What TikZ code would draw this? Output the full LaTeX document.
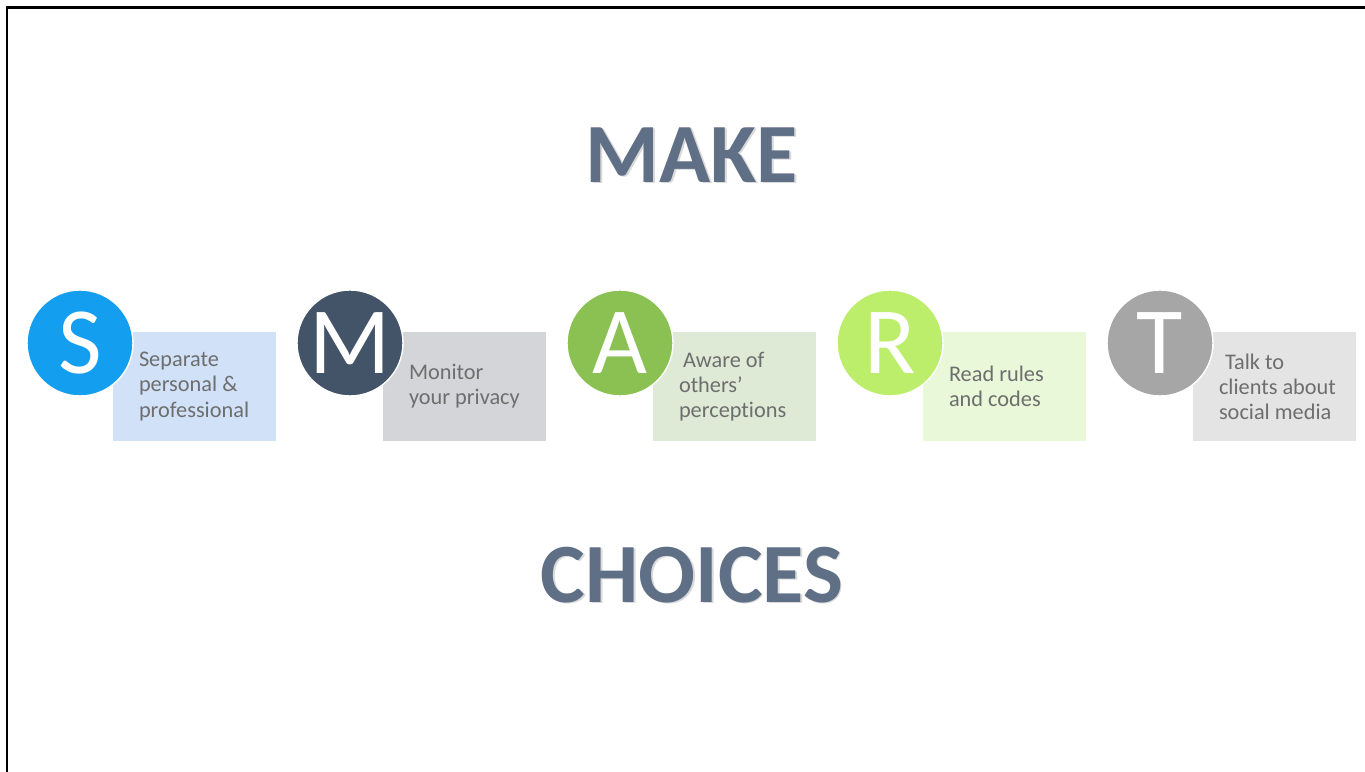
\documentclass[tikz,border=0pt]{standalone}
\usepackage{fontspec}
\setmainfont{Carlito}[Ligatures=NoCommon]
\usetikzlibrary{positioning}

\definecolor{titlegray}{HTML}{5E6F86}
\definecolor{notegray}{HTML}{6E6E6E}
\definecolor{sblue}{HTML}{139EEF}
\definecolor{sbox}{HTML}{D1E1F8}
\definecolor{mslate}{HTML}{435469}
\definecolor{mbox}{HTML}{D4D5D8}
\definecolor{agreen}{HTML}{8BC152}
\definecolor{abox}{HTML}{DEE9D6}
\definecolor{rlime}{HTML}{BDEE6B}
\definecolor{rbox}{HTML}{E8F8D8}
\definecolor{tgray}{HTML}{A6A6A6}
\definecolor{tbox}{HTML}{E4E4E4}

\begin{document}
\begin{tikzpicture}[
  letterdot/.style={circle,draw=white,line width=0.8pt,minimum size=2.12cm,inner sep=0pt,
    text=white,font=\fontsize{54}{54}\selectfont},
  notebox/.style={minimum width=3.26cm,minimum height=2.18cm,inner sep=0pt},
  notetext/.style={anchor=west,align=left,text=notegray,inner sep=0pt,
    font=\fontsize{12.7}{14.3}\selectfont},
  bigword/.style={font=\fontsize{48}{48}\selectfont\bfseries},
]
\useasboundingbox (0,0) rectangle (27.3,15.44);
% slide frame
\draw[line width=1.7pt] (0.14,0) -- (0.14,15.28) -- (27.3,15.28);

% headline words with a soft drop shadow
\node[bigword,text=black!15] at (13.87,12.31) {MAKE};
\node[bigword,text=titlegray] (make) at (13.84,12.34) {MAKE};
\node[bigword,text=black!15] at (13.87,3.91) {CHOICES};
\node[bigword,text=titlegray] (choices) at (13.84,3.94) {CHOICES};

% note boxes
\node[notebox,fill=sbox] (sbox) at (3.89,7.71) {};
\node[notebox,fill=mbox] (mbox) at (9.29,7.71) {};
\node[notebox,fill=abox] (abox) at (14.69,7.71) {};
\node[notebox,fill=rbox] (rbox) at (20.09,7.71) {};
\node[notebox,fill=tbox] (tbox) at (25.49,7.71) {};

\node[notetext] (stext) at ([xshift=0.52cm]sbox.west) {Separate\\personal \&\\professional};
\node[notetext] (mtext) at ([xshift=0.52cm]mbox.west) {Monitor\\your privacy};
\node[notetext] (atext) at ([xshift=0.52cm]abox.west) {\hspace{0.08cm}Aware of\\others’\\perceptions};
\node[notetext] (rtext) at ([xshift=0.52cm]rbox.west) {Read rules\\and codes};
\node[notetext] (ttext) at ([xshift=0.52cm]tbox.west) {\hspace{0.12cm}Talk to\\clients about\\social media};

% letter circles on top
\node[letterdot,fill=sblue] (sdot) at (1.6,8.58) {S};
\node[letterdot,fill=mslate] (mdot) at (7.0,8.58) {M};
\node[letterdot,fill=agreen] (adot) at (12.4,8.58) {A};
\node[letterdot,fill=rlime] (rdot) at (17.8,8.58) {R};
\node[letterdot,fill=tgray] (tdot) at (23.2,8.58) {T};
\end{tikzpicture}
\end{document}
